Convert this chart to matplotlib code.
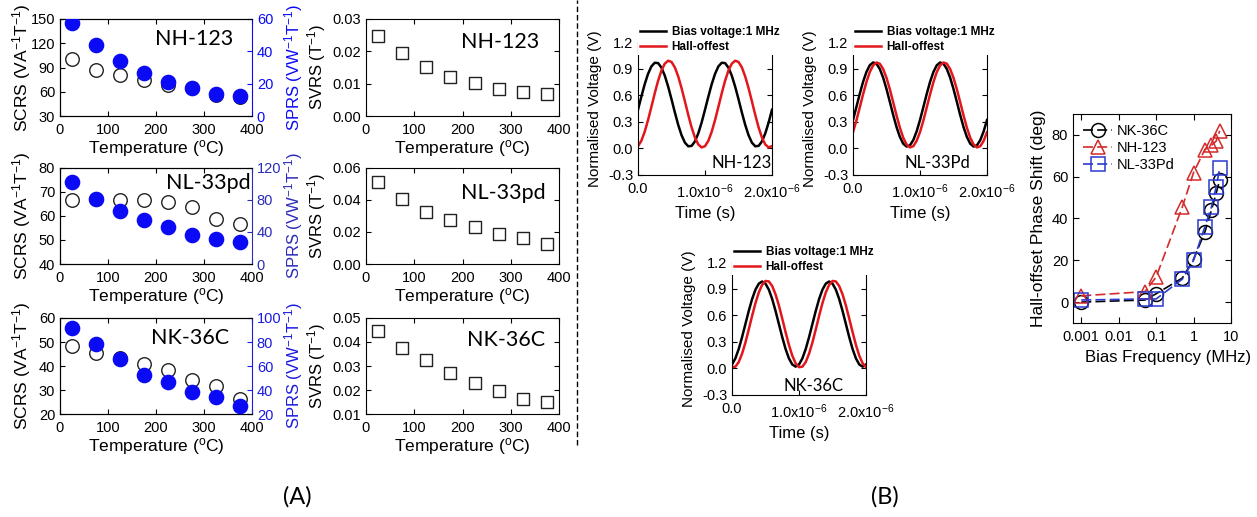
import numpy as np
import matplotlib.pyplot as plt
from matplotlib.lines import Line2D
from matplotlib.ticker import FormatStrFormatter, LogLocator, NullFormatter

plt.rcParams['font.family'] = ['Liberation Sans', 'DejaVu Sans']
plt.rcParams['mathtext.fontset'] = 'custom'
plt.rcParams['mathtext.rm'] = 'Liberation Sans'
plt.rcParams['mathtext.default'] = 'regular'
plt.rcParams['axes.unicode_minus'] = False
plt.rcParams['xtick.direction'] = 'in'
plt.rcParams['ytick.direction'] = 'in'

# ---- (A) sensitivities vs temperature ----
temps = [25, 75, 125, 175, 225, 275, 325, 375]
scrs_nh = [101, 87, 81, 74.5, 68, 65, 56, 54]
sprs_nh = [57.5, 44, 34, 26.8, 21.2, 17.6, 13.9, 12.2]
scrs_nl = [66.8, 67, 66.5, 66.8, 66, 63.8, 58.9, 56.7]
sprs_nl = [103, 81.7, 66.7, 55.4, 46.3, 36.7, 31.3, 27]
scrs_nk = [48.2, 45.4, 43.3, 40.8, 38.5, 34.3, 31.5, 26.3]
sprs_nk = [91.7, 78.6, 66, 52.8, 46.7, 38.3, 33.9, 27]
svrs_nh = [0.0246, 0.0194, 0.0153, 0.0121, 0.0101, 0.0082, 0.0075, 0.0067]
svrs_nl = [0.051, 0.0406, 0.0325, 0.0277, 0.0231, 0.0188, 0.0163, 0.0127]
svrs_nk = [0.0444, 0.0375, 0.0324, 0.0271, 0.0229, 0.0197, 0.0163, 0.015]

# ---- (B) waveforms at 1 MHz (sampled every 0.05 us) ----
t = np.linspace(0, 2e-6, 41)
nh_bias = [0.436, 0.584, 0.724, 0.841, 0.925, 0.966, 0.962, 0.911, 0.820, 0.697,
           0.555, 0.406, 0.266, 0.149, 0.065, 0.024, 0.028, 0.079, 0.170, 0.293,
           0.436, 0.584, 0.724, 0.841, 0.925, 0.966, 0.962, 0.911, 0.820, 0.697,
           0.555, 0.406, 0.266, 0.149, 0.065, 0.024, 0.028, 0.079, 0.170, 0.293, 0.436]
nh_hall = [0.025, 0.086, 0.188, 0.320, 0.469, 0.622, 0.763, 0.878, 0.956, 0.989,
           0.975, 0.914, 0.812, 0.680, 0.531, 0.378, 0.237, 0.122, 0.044, 0.011,
           0.025, 0.086, 0.188, 0.320, 0.469, 0.622, 0.763, 0.878, 0.956, 0.989,
           0.975, 0.914, 0.812, 0.680, 0.531, 0.378, 0.237, 0.122, 0.044, 0.011, 0.025]
nl_bias = [0.320, 0.465, 0.613, 0.750, 0.861, 0.937, 0.969, 0.955, 0.896, 0.798,
           0.670, 0.525, 0.377, 0.240, 0.129, 0.053, 0.021, 0.035, 0.094, 0.192,
           0.320, 0.465, 0.613, 0.750, 0.861, 0.937, 0.969, 0.955, 0.896, 0.798,
           0.670, 0.525, 0.377, 0.240, 0.129, 0.053, 0.021, 0.035, 0.094, 0.192, 0.320]
nl_hall = [0.184, 0.313, 0.460, 0.609, 0.747, 0.860, 0.936, 0.969, 0.955, 0.895,
           0.796, 0.667, 0.520, 0.371, 0.233, 0.120, 0.044, 0.011, 0.025, 0.085,
           0.184, 0.313, 0.460, 0.609, 0.747, 0.860, 0.936, 0.969, 0.955, 0.895,
           0.796, 0.667, 0.520, 0.371, 0.233, 0.120, 0.044, 0.011, 0.025, 0.085, 0.184]
nk_bias = [0.044, 0.112, 0.218, 0.352, 0.500, 0.648, 0.782, 0.888, 0.956, 0.980,
           0.956, 0.888, 0.782, 0.648, 0.500, 0.352, 0.218, 0.112, 0.044, 0.020,
           0.044, 0.112, 0.218, 0.352, 0.500, 0.648, 0.782, 0.888, 0.956, 0.980,
           0.956, 0.888, 0.782, 0.648, 0.500, 0.352, 0.218, 0.112, 0.044, 0.020, 0.044]
nk_hall = [0.014, 0.019, 0.071, 0.165, 0.291, 0.439, 0.592, 0.736, 0.857, 0.943,
           0.986, 0.981, 0.929, 0.835, 0.709, 0.561, 0.408, 0.264, 0.143, 0.057,
           0.014, 0.019, 0.071, 0.165, 0.291, 0.439, 0.592, 0.736, 0.857, 0.943,
           0.986, 0.981, 0.929, 0.835, 0.709, 0.561, 0.408, 0.264, 0.143, 0.057, 0.014]

# ---- (B) phase shift vs bias frequency ----
freq = [0.001, 0.05, 0.1, 0.5, 1, 2, 3, 4, 5]
phase_nk = [0, 1, 4, 11.5, 20.5, 33.5, 44, 52, 58.5]
phase_nh = [3, 5, 12, 45.5, 62, 73, 75, 77, 82]
phase_nl = [1, 1.5, 1.5, 11, 20, 36, 45.5, 55, 64]

W, H = 1257, 517
fig = plt.figure(figsize=(W / 100, H / 100), dpi=100)


def rect(x0, y0, x1, y1):
    # pixel box (top-left origin) -> figure fraction
    return [x0 / W, 1 - y1 / H, (x1 - x0) / W, (y1 - y0) / H]


temp_label = 'Temperature ($^{o}$C)'


def temp_panel(box, scrs, sprs, yl, ytl, yr, ytr, name, nxy, rcol):
    ax = fig.add_axes(rect(*box))
    ax.scatter(temps, scrs, s=95, facecolors='white', edgecolors='#222222',
               linewidths=1, zorder=3)
    ax.set_xlim(0, 400)
    ax.set_xticks([0, 100, 200, 300, 400])
    ax.set_ylim(*yl)
    ax.set_yticks(ytl)
    ax.tick_params(top=True, right=False, labelsize=10.5, length=3.5)
    ax.tick_params(axis='x', pad=5)
    ax.set_xlabel(temp_label, fontsize=12.5, labelpad=1)
    ax.set_ylabel('SCRS (VA$^{-1}$T$^{-1}$)', fontsize=12.5)
    ax.yaxis.set_label_coords(-0.14, 0.5)
    ax.spines['right'].set_visible(False)
    ax2 = ax.twinx()
    ax2.scatter(temps, sprs, s=105, color='#0a0af5', zorder=3)
    ax2.set_ylim(*yr)
    ax2.set_yticks(ytr)
    ax2.spines['right'].set_color(rcol)
    ax2.tick_params(axis='y', colors=rcol, labelsize=10.5, length=3.5)
    ax2.set_ylabel('SPRS (VW$^{-1}$T$^{-1}$)', fontsize=12, color=rcol)
    ax2.yaxis.set_label_coords(1.155, 0.5)
    ax2.text(nxy[0], nxy[1], name, transform=ax2.transAxes, ha='right',
             va='center', fontsize=15.5, family='Lato')


def svrs_panel(box, svrs, yl, yt, name, nxy):
    ax = fig.add_axes(rect(*box))
    ax.scatter(temps, svrs, s=80, marker='s', facecolors='white',
               edgecolors='#222222', linewidths=1, zorder=3)
    ax.set_xlim(0, 400)
    ax.set_xticks([0, 100, 200, 300, 400])
    ax.set_ylim(*yl)
    ax.set_yticks(yt)
    ax.yaxis.set_major_formatter(FormatStrFormatter('%.2f'))
    ax.tick_params(top=True, right=True, labelsize=10.5, length=3.5)
    ax.tick_params(axis='x', pad=5)
    ax.set_xlabel(temp_label, fontsize=12.5, labelpad=1)
    ax.set_ylabel('SVRS (T$^{-1}$)', fontsize=12)
    ax.yaxis.set_label_coords(-0.195, 0.5)
    ax.text(nxy[0], nxy[1], name, transform=ax.transAxes, ha='right',
            va='center', fontsize=15.5, family='Lato')


temp_panel((60, 19, 252, 116), scrs_nh, sprs_nh, (30, 150), [30, 60, 90, 120, 150],
           (0, 60), [0, 20, 40, 60], 'NH-123', (0.90, 0.79), '#0a0af5')
temp_panel((60, 168, 252, 264), scrs_nl, sprs_nl, (40, 80), [40, 50, 60, 70, 80],
           (0, 120), [0, 40, 80, 120], 'NL-33pd', (0.995, 0.84), '#2b2bb8')
temp_panel((60, 318, 252, 414), scrs_nk, sprs_nk, (20, 60), [20, 30, 40, 50, 60],
           (20, 100), [20, 40, 60, 80, 100], 'NK-36C', (0.88, 0.79), '#1a1ae0')

svrs_panel((366, 19, 559, 116), svrs_nh, (0, 0.03), [0, 0.01, 0.02, 0.03], 'NH-123', (0.90, 0.76))
svrs_panel((366, 168, 559, 264), svrs_nl, (0, 0.06), [0, 0.02, 0.04, 0.06], 'NL-33pd', (0.93, 0.74))
svrs_panel((366, 318, 559, 414), svrs_nk, (0.01, 0.05), [0.01, 0.02, 0.03, 0.04, 0.05], 'NK-36C', (0.93, 0.77))


def wave_panel(box, bias, hall, name, nxy):
    ax = fig.add_axes(rect(*box))
    ax.plot(t, bias, color='black', lw=1.8, label='Bias voltage:1 MHz')
    ax.plot(t, hall, color='#e3161b', lw=1.8, label='Hall-offest')
    ax.set_xlim(0, 2e-6)
    ax.set_ylim(-0.3, 1.2)
    ax.set_yticks([-0.3, 0, 0.3, 0.6, 0.9, 1.2])
    ax.set_yticklabels(['-0.3', '0.0', '0.3', '0.6', '0.9', '1.2'])
    ax.set_xticks([0, 1e-6, 2e-6])
    ax.set_xticklabels(['0.0', '1.0x10$^{-6}$', '2.0x10$^{-6}$'])
    ax.tick_params(right=True, labelsize=10.5, length=3.5)
    ax.tick_params(axis='x', pad=5)
    ax.set_xlabel('Time (s)', fontsize=12)
    ax.set_ylabel('Normalised Voltage (V)', fontsize=11)
    leg = ax.legend(loc='lower left', bbox_to_anchor=(0.0, 0.905), frameon=True,
                    fancybox=False, borderpad=0.15, borderaxespad=0,
                    handlelength=2.2, handletextpad=0.5, labelspacing=0.25,
                    prop={'size': 8.5, 'weight': 'bold'})
    leg.get_frame().set_edgecolor('none')
    leg.get_frame().set_facecolor('white')
    leg.get_frame().set_alpha(1)
    ax.text(nxy[0], nxy[1], name, transform=ax.transAxes, ha='center',
            va='center', fontsize=12, family='Lato')


wave_panel((638, 42, 772, 175), nh_bias, nh_hall, 'NH-123', (0.77, 0.09))
wave_panel((853, 42, 987, 175), nl_bias, nl_hall, 'NL-33Pd', (0.63, 0.09))
wave_panel((732, 262, 866, 395), nk_bias, nk_hall, 'NK-36C', (0.61, 0.07))

# phase shift panel
ax = fig.add_axes(rect(1073, 114, 1231, 323))
ls = dict(ls='--', dashes=(6, 2.5), lw=1.2, ms=10, mew=1.1, mfc='none')
ax.plot(freq, phase_nk, color='black', marker='o', label='NK-36C', **ls)
ax.plot(freq, phase_nh, color='#d42a2a', marker='^', label='NH-123', **ls)
ax.plot(freq, phase_nl, color='#2b3bd0', marker='s', label='NL-33Pd', **ls)
ax.set_xscale('log')
ax.set_xlim(6e-4, 10)
ax.set_ylim(-10, 90)
ax.set_yticks([0, 20, 40, 60, 80])
ax.set_xticks([0.001, 0.01, 0.1, 1, 10])
ax.set_xticklabels(['0.001', '0.01', '0.1', '1', '10'])
ax.xaxis.set_minor_locator(LogLocator(base=10, subs=np.arange(2, 10)))
ax.xaxis.set_minor_formatter(NullFormatter())
ax.tick_params(which='both', top=True, right=True, labelsize=10.5)
ax.tick_params(which='major', length=4)
ax.tick_params(which='minor', length=2)
ax.tick_params(axis='x', pad=5)
ax.set_xlabel('Bias Frequency (MHz)', fontsize=12)
ax.xaxis.set_label_coords(0.6, -0.13)
ax.set_ylabel('Hall-offset Phase Shift (deg)', fontsize=12.5)
ax.legend(loc='upper left', frameon=False, fontsize=10.5, handlelength=2.0,
          handletextpad=0.3, labelspacing=0.2, borderaxespad=0.3)

# separator and panel letters
fig.add_artist(Line2D([577 / W, 577 / W], [1 - 445 / H, 1.0], transform=fig.transFigure,
                      color='black', lw=1, ls=(0, (4, 2))))
fig.text(297 / W, 1 - 497 / H, '(A)', ha='center', va='center', fontsize=17, family='Lato')
fig.text(885 / W, 1 - 497 / H, '(B)', ha='center', va='center', fontsize=17, family='Lato')

fig.savefig('out.png', dpi=100)
